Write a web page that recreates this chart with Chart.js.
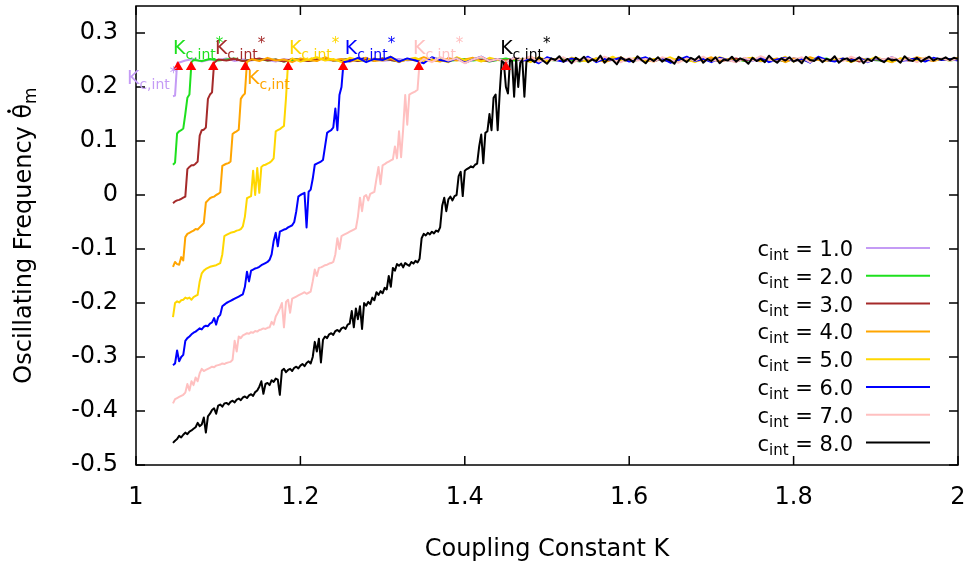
<!DOCTYPE html>
<html>
<head>
<meta charset="utf-8">
<script src="https://cdn.jsdelivr.net/npm/chart.js@4.4.1/dist/chart.umd.min.js"></script>
<style>
  html, body { margin: 0; padding: 0; background: #ffffff; }
  #wrap { width: 974px; height: 569px; position: relative; }
</style>
</head>
<body>
<div id="wrap"><canvas id="chart" width="974" height="569"></canvas></div>
<script>
// ---- axis ticks ----
const xTicks = [1, 1.2, 1.4, 1.6, 1.8, 2];
const yTicks = [-0.5, -0.4, -0.3, -0.2, -0.1, 0, 0.1, 0.2, 0.3];

// ---- series metadata ----
const cintValues = ['1.0', '2.0', '3.0', '4.0', '5.0', '6.0', '7.0', '8.0'];
const seriesColors = ['#c49bf5', '#1ee01e', '#a52a2a', '#ffa500', '#ffd700', '#0000ff', '#ffc0c0', '#000000'];

// sweep of K: the ramp part is sampled every 0.0025 from K = 1.045,
// the locked plateau afterwards on a coarser grid
const kStart = 1.045;
const rampStep = 0.0025;
const plateauStep = 0.01;
const plateauStepFine = 0.005;
const plateauStart = [1.06, 1.07, 1.10, 1.14, 1.19, 1.26, 1.35, 1.48];

// oscillating frequency on the ramp (one value per K step)
const ramp1 = [0.183, 0.184, 0.244];
const ramp2 = [0.056, 0.060, 0.114, 0.118, 0.120, 0.123, 0.150, 0.180, 0.186, 0.246];
const ramp3 = [-0.015, -0.012, -0.010, -0.009, -0.007, -0.005, -0.003, 0.048, 0.052, 0.055,
  0.055, 0.058, 0.062, 0.110, 0.120, 0.121, 0.125, 0.178, 0.186, 0.190, 0.245];
const ramp4 = [-0.133, -0.124, -0.128, -0.129, -0.115, -0.121, -0.078, -0.072, -0.070, -0.068,
  -0.066, -0.063, -0.064, -0.060, -0.056, -0.052, -0.014, -0.010, -0.006, -0.004,
  -0.003, 0.000, 0.002, 0.005, 0.054, 0.056, 0.058, 0.059, 0.062, 0.113,
  0.116, 0.118, 0.121, 0.178, 0.184, 0.188, 0.246];
const ramp5 = [-0.226, -0.200, -0.197, -0.199, -0.195, -0.194, -0.190, -0.192, -0.190, -0.194,
  -0.189, -0.187, -0.185, -0.160, -0.145, -0.140, -0.137, -0.135, -0.133, -0.132,
  -0.131, -0.130, -0.128, -0.126, -0.110, -0.076, -0.074, -0.072, -0.070, -0.069,
  -0.068, -0.066, -0.065, -0.063, -0.058, -0.040, -0.006, -0.004, -0.002, 0.045,
  0.000, 0.050, 0.004, 0.052, 0.055, 0.056, 0.058, 0.060, 0.063, 0.068,
  0.118, 0.120, 0.122, 0.125, 0.128, 0.180, 0.246];
const ramp6 = [-0.315, -0.312, -0.288, -0.308, -0.300, -0.296, -0.270, -0.265, -0.262, -0.258,
  -0.255, -0.253, -0.250, -0.247, -0.249, -0.244, -0.242, -0.243, -0.238, -0.236,
  -0.228, -0.240, -0.226, -0.222, -0.206, -0.203, -0.200, -0.198, -0.196, -0.194,
  -0.192, -0.190, -0.188, -0.186, -0.184, -0.170, -0.142, -0.160, -0.140, -0.138,
  -0.136, -0.135, -0.133, -0.130, -0.128, -0.126, -0.124, -0.120, -0.110, -0.085,
  -0.070, -0.095, -0.068, -0.066, -0.064, -0.063, -0.060, -0.058, -0.056, -0.050,
  -0.030, -0.003, 0.000, 0.002, 0.004, -0.060, 0.006, 0.010, 0.030, 0.056,
  0.058, 0.060, 0.062, 0.065, 0.090, 0.115, 0.118, 0.120, 0.125, 0.160,
  0.120, 0.185, 0.200, 0.246];
const ramp7 = [-0.386, -0.378, -0.376, -0.374, -0.372, -0.370, -0.366, -0.350, -0.362, -0.345,
  -0.352, -0.338, -0.345, -0.330, -0.322, -0.326, -0.324, -0.322, -0.320, -0.318,
  -0.319, -0.316, -0.315, -0.314, -0.312, -0.313, -0.311, -0.310, -0.309, -0.305,
  -0.270, -0.290, -0.262, -0.265, -0.260, -0.258, -0.256, -0.257, -0.254, -0.255,
  -0.252, -0.253, -0.250, -0.249, -0.247, -0.248, -0.246, -0.245, -0.235, -0.240,
  -0.225, -0.218, -0.210, -0.200, -0.245, -0.198, -0.194, -0.218, -0.192, -0.190,
  -0.188, -0.186, -0.184, -0.182, -0.180, -0.183, -0.181, -0.179, -0.160, -0.138,
  -0.150, -0.135, -0.134, -0.132, -0.130, -0.129, -0.127, -0.126, -0.124, -0.110,
  -0.080, -0.100, -0.076, -0.074, -0.072, -0.070, -0.068, -0.066, -0.064, -0.062,
  -0.040, -0.005, -0.030, -0.003, 0.000, -0.010, 0.002, 0.004, 0.006, 0.030,
  0.052, 0.020, 0.055, 0.057, 0.060, 0.062, 0.064, 0.066, 0.090, 0.068,
  0.118, 0.070, 0.122, 0.185, 0.130, 0.186, 0.188, 0.190, 0.192, 0.195,
  0.246];
const ramp8 = [-0.459, -0.455, -0.452, -0.446, -0.449, -0.444, -0.440, -0.443, -0.438, -0.436,
  -0.433, -0.430, -0.422, -0.428, -0.425, -0.412, -0.440, -0.410, -0.405, -0.398,
  -0.395, -0.405, -0.390, -0.388, -0.392, -0.386, -0.385, -0.388, -0.383, -0.381,
  -0.384, -0.379, -0.377, -0.380, -0.375, -0.373, -0.376, -0.371, -0.369, -0.372,
  -0.365, -0.362, -0.355, -0.345, -0.368, -0.350, -0.348, -0.352, -0.343, -0.346,
  -0.340, -0.342, -0.370, -0.325, -0.322, -0.328, -0.324, -0.322, -0.326, -0.320,
  -0.318, -0.321, -0.316, -0.313, -0.317, -0.311, -0.308, -0.312, -0.300, -0.272,
  -0.290, -0.266, -0.310, -0.268, -0.262, -0.265, -0.258, -0.256, -0.259, -0.252,
  -0.250, -0.253, -0.247, -0.245, -0.248, -0.240, -0.238, -0.215, -0.245, -0.210,
  -0.230, -0.206, -0.248, -0.200, -0.205, -0.198, -0.202, -0.190, -0.195, -0.180,
  -0.185, -0.178, -0.182, -0.172, -0.175, -0.150, -0.170, -0.135, -0.140, -0.128,
  -0.131, -0.127, -0.134, -0.126, -0.129, -0.131, -0.124, -0.127, -0.122, -0.125,
  -0.118, -0.080, -0.072, -0.075, -0.070, -0.073, -0.068, -0.071, -0.066, -0.068,
  -0.060, -0.020, -0.005, -0.030, -0.008, -0.003, -0.010, -0.002, 0.000, 0.035,
  0.043, -0.002, 0.045, 0.048, 0.050, 0.053, 0.051, 0.056, 0.058, 0.090,
  0.112, 0.059, 0.115, 0.118, 0.150, 0.120, 0.180, 0.186, 0.120, 0.190,
  0.248, 0.245, 0.200, 0.188, 0.250, 0.248, 0.182, 0.252, 0.200, 0.245,
  0.250, 0.182, 0.247];

// locked plateau up to K = 2
const plateau1 = [0.249, 0.252, 0.247, 0.251, 0.250, 0.253, 0.248, 0.251, 0.249, 0.252,
  0.250, 0.247, 0.252, 0.249, 0.251, 0.248, 0.253, 0.250, 0.249, 0.252,
  0.247, 0.251, 0.250, 0.253, 0.248, 0.250, 0.252, 0.249, 0.251, 0.247,
  0.252, 0.250, 0.248, 0.253, 0.249, 0.251, 0.250, 0.247, 0.252, 0.249,
  0.251, 0.248, 0.250, 0.253, 0.249, 0.252, 0.247, 0.250, 0.251, 0.249,
  0.253, 0.248, 0.250, 0.252, 0.249, 0.251, 0.247, 0.252, 0.250, 0.248,
  0.251, 0.253, 0.249, 0.250, 0.252, 0.248, 0.251, 0.249, 0.253, 0.250,
  0.247, 0.252, 0.249, 0.251, 0.250, 0.248, 0.253, 0.250, 0.249, 0.252,
  0.251, 0.248, 0.250, 0.253, 0.249, 0.251, 0.252, 0.250, 0.248, 0.251,
  0.253, 0.249, 0.252, 0.250, 0.251];
const plateau2 = [0.250, 0.248, 0.252, 0.249, 0.251, 0.253, 0.248, 0.250, 0.252, 0.249,
  0.251, 0.247, 0.250, 0.252, 0.248, 0.251, 0.253, 0.249, 0.250, 0.252,
  0.248, 0.251, 0.249, 0.253, 0.250, 0.247, 0.252, 0.250, 0.249, 0.251,
  0.253, 0.248, 0.250, 0.252, 0.249, 0.251, 0.247, 0.250, 0.253, 0.249,
  0.252, 0.250, 0.248, 0.251, 0.249, 0.253, 0.250, 0.247, 0.252, 0.250,
  0.249, 0.251, 0.253, 0.248, 0.250, 0.252, 0.249, 0.251, 0.247, 0.252,
  0.250, 0.248, 0.253, 0.249, 0.251, 0.250, 0.252, 0.248, 0.250, 0.253,
  0.249, 0.251, 0.247, 0.252, 0.250, 0.249, 0.251, 0.253, 0.248, 0.250,
  0.252, 0.249, 0.251, 0.250, 0.248, 0.253, 0.250, 0.252, 0.249, 0.251,
  0.250, 0.252, 0.249, 0.251];
const plateau3 = [0.251, 0.249, 0.252, 0.248, 0.250, 0.253, 0.249, 0.251, 0.247, 0.252,
  0.250, 0.248, 0.251, 0.253, 0.249, 0.250, 0.252, 0.248, 0.251, 0.249,
  0.253, 0.250, 0.247, 0.251, 0.252, 0.249, 0.250, 0.248, 0.253, 0.251,
  0.249, 0.252, 0.250, 0.248, 0.251, 0.249, 0.253, 0.250, 0.252, 0.247,
  0.250, 0.251, 0.249, 0.253, 0.248, 0.252, 0.250, 0.249, 0.251, 0.253,
  0.248, 0.250, 0.252, 0.249, 0.251, 0.247, 0.253, 0.250, 0.249, 0.252,
  0.251, 0.248, 0.250, 0.253, 0.249, 0.251, 0.252, 0.248, 0.250, 0.249,
  0.253, 0.251, 0.248, 0.252, 0.250, 0.249, 0.251, 0.253, 0.247, 0.250,
  0.252, 0.249, 0.251, 0.250, 0.253, 0.248, 0.251, 0.249, 0.252, 0.250,
  0.251];
const plateau4 = [0.252, 0.248, 0.254, 0.249, 0.251, 0.246, 0.253, 0.250, 0.248, 0.255,
  0.249, 0.252, 0.247, 0.251, 0.254, 0.248, 0.250, 0.253, 0.246, 0.252,
  0.249, 0.255, 0.250, 0.247, 0.253, 0.249, 0.251, 0.254, 0.248, 0.250,
  0.252, 0.246, 0.253, 0.249, 0.255, 0.250, 0.248, 0.252, 0.247, 0.254,
  0.250, 0.249, 0.253, 0.246, 0.251, 0.255, 0.248, 0.252, 0.250, 0.247,
  0.254, 0.249, 0.251, 0.253, 0.248, 0.250, 0.255, 0.247, 0.252, 0.249,
  0.251, 0.254, 0.248, 0.250, 0.253, 0.246, 0.252, 0.249, 0.255, 0.250,
  0.248, 0.253, 0.251, 0.247, 0.254, 0.249, 0.252, 0.250, 0.246, 0.253,
  0.249, 0.255, 0.251, 0.248, 0.252, 0.250, 0.254];
const plateau5 = [0.253, 0.247, 0.251, 0.255, 0.249, 0.252, 0.246, 0.254, 0.250, 0.248,
  0.253, 0.249, 0.256, 0.247, 0.251, 0.254, 0.248, 0.252, 0.250, 0.246,
  0.255, 0.249, 0.252, 0.247, 0.254, 0.250, 0.248, 0.253, 0.251, 0.246,
  0.255, 0.249, 0.252, 0.248, 0.254, 0.250, 0.247, 0.253, 0.249, 0.256,
  0.248, 0.251, 0.254, 0.247, 0.252, 0.250, 0.255, 0.248, 0.251, 0.246,
  0.253, 0.249, 0.255, 0.250, 0.247, 0.252, 0.254, 0.248, 0.251, 0.249,
  0.256, 0.247, 0.252, 0.250, 0.254, 0.248, 0.251, 0.253, 0.246, 0.252,
  0.249, 0.255, 0.250, 0.247, 0.253, 0.251, 0.248, 0.254, 0.250, 0.252,
  0.249, 0.253];
const plateau6 = [0.248, 0.254, 0.246, 0.252, 0.250, 0.256, 0.247, 0.253, 0.249, 0.244,
  0.255, 0.250, 0.247, 0.253, 0.245, 0.251, 0.256, 0.248, 0.252, 0.246,
  0.254, 0.249, 0.251, 0.244, 0.255, 0.250, 0.247, 0.253, 0.249, 0.256,
  0.246, 0.252, 0.250, 0.254, 0.247, 0.251, 0.255, 0.248, 0.253, 0.245,
  0.250, 0.256, 0.248, 0.252, 0.246, 0.254, 0.250, 0.247, 0.253, 0.249,
  0.255, 0.246, 0.251, 0.254, 0.248, 0.252, 0.245, 0.256, 0.250, 0.247,
  0.253, 0.249, 0.254, 0.246, 0.252, 0.250, 0.255, 0.248, 0.251, 0.253,
  0.247, 0.254, 0.250, 0.252, 0.249];
const plateau7 = [0.252, 0.246, 0.255, 0.249, 0.253, 0.244, 0.251, 0.256, 0.248, 0.252,
  0.246, 0.254, 0.250, 0.257, 0.247, 0.252, 0.249, 0.255, 0.245, 0.251,
  0.253, 0.248, 0.256, 0.250, 0.246, 0.254, 0.249, 0.252, 0.247, 0.255,
  0.251, 0.245, 0.253, 0.249, 0.256, 0.248, 0.252, 0.250, 0.246, 0.254,
  0.249, 0.257, 0.251, 0.247, 0.253, 0.250, 0.255, 0.246, 0.252, 0.249,
  0.254, 0.248, 0.256, 0.250, 0.247, 0.253, 0.251, 0.255, 0.249, 0.252,
  0.246, 0.254, 0.250, 0.253, 0.249, 0.252];
const plateau8 = [0.251, 0.246, 0.255, 0.249, 0.243, 0.253, 0.250, 0.257, 0.247, 0.252,
  0.244, 0.254, 0.249, 0.256, 0.246, 0.251, 0.248, 0.258, 0.245, 0.253,
  0.250, 0.242, 0.255, 0.249, 0.252, 0.246, 0.257, 0.250, 0.244, 0.253,
  0.248, 0.255, 0.247, 0.252, 0.249, 0.243, 0.256, 0.251, 0.246, 0.254,
  0.250, 0.257, 0.245, 0.252, 0.248, 0.255, 0.244, 0.251, 0.249, 0.256,
  0.247, 0.253, 0.250, 0.243, 0.254, 0.248, 0.252, 0.246, 0.258, 0.250,
  0.245, 0.253, 0.249, 0.255, 0.247, 0.251, 0.244, 0.256, 0.250, 0.248,
  0.254, 0.246, 0.252, 0.249, 0.257, 0.245, 0.251, 0.253, 0.247, 0.250,
  0.255, 0.244, 0.252, 0.248, 0.256, 0.250, 0.246, 0.253, 0.249, 0.251,
  0.245, 0.257, 0.250, 0.248, 0.254, 0.247, 0.252, 0.256, 0.249, 0.253,
  0.251, 0.255, 0.250, 0.254, 0.252];

// critical coupling K_c,int* for each c_int (red markers)
const kcValues = [1.051, 1.067, 1.094, 1.133, 1.185, 1.252, 1.344, 1.450];
const kcMarkerLevel = 0.237;
// where each K_c,int* caption sits (K, frequency of its baseline)
const kcLabelK = [0.989, 1.045, 1.096, 1.135, 1.186, 1.254, 1.337, 1.443];
const kcLabelV = [0.206, 0.261, 0.261, 0.206, 0.261, 0.261, 0.261, 0.261];
const kcLabelStar = [true, true, true, false, true, true, true, true];

const ramps = [ramp1, ramp2, ramp3, ramp4, ramp5, ramp6, ramp7, ramp8];
const plateaus = [plateau1, plateau2, plateau3, plateau4, plateau5, plateau6, plateau7, plateau8];
const plateauSteps = [plateauStep, plateauStep, plateauStep, plateauStep, plateauStep, plateauStep, plateauStep, plateauStepFine];

function buildSeries(i) {
  const pts = ramps[i].map((v, j) => ({ x: kStart + j * rampStep, y: v }));
  plateaus[i].forEach((v, j) => pts.push({ x: plateauStart[i] + j * plateauSteps[i], y: v }));
  return pts;
}

const FONT = '"DejaVu Sans", Verdana, sans-serif';

const datasets = cintValues.map((c, i) => ({
  label: 'c_int = ' + c,
  data: buildSeries(i),
  borderColor: seriesColors[i],
  backgroundColor: seriesColors[i],
  borderWidth: 2,
  pointRadius: 0,
  tension: 0,
  borderJoinStyle: 'round',
  order: 10 - i
}));

datasets.push({
  type: 'scatter',
  label: 'Kc',
  data: kcValues.map(k => ({ x: k, y: kcMarkerLevel })),
  pointStyle: 'triangle',
  pointRadius: 6,
  pointHoverRadius: 6,
  backgroundColor: '#ff0000',
  borderColor: '#ff0000',
  borderWidth: 0,
  order: 0
});

// draw a run of text pieces (with sub/superscripts) left to right
function drawRuns(ctx, x, y, runs, color) {
  let cx = x;
  for (const r of runs) {
    ctx.font = r.size + 'px ' + FONT;
    ctx.fillStyle = r.color || color;
    ctx.fillText(r.text, cx, y + (r.dy || 0));
    cx += ctx.measureText(r.text).width;
  }
  return cx - x;
}
function runsWidth(ctx, runs) {
  let w = 0;
  for (const r of runs) {
    ctx.font = r.size + 'px ' + FONT;
    w += ctx.measureText(r.text).width;
  }
  return w;
}

const decorations = {
  id: 'decorations',
  afterDraw(chart) {
    const { ctx, chartArea: a, scales } = chart;
    const xs = scales.x, ys = scales.y;
    ctx.save();
    ctx.textAlign = 'left';
    ctx.textBaseline = 'alphabetic';

    // border and mirrored inward ticks
    ctx.strokeStyle = '#000';
    ctx.lineWidth = 1.5;
    ctx.strokeRect(a.left, a.top, a.right - a.left, a.bottom - a.top);
    const tl = 9;
    ctx.beginPath();
    for (const v of xTicks) {
      const px = xs.getPixelForValue(v);
      ctx.moveTo(px, a.bottom); ctx.lineTo(px, a.bottom - tl);
      ctx.moveTo(px, a.top); ctx.lineTo(px, a.top + tl);
    }
    for (const v of yTicks) {
      const py = ys.getPixelForValue(v);
      ctx.moveTo(a.left, py); ctx.lineTo(a.left + tl, py);
      ctx.moveTo(a.right, py); ctx.lineTo(a.right - tl, py);
    }
    ctx.stroke();

    // K_c,int* captions
    for (let i = 0; i < kcValues.length; i++) {
      const px = xs.getPixelForValue(kcLabelK[i]);
      const py = ys.getPixelForValue(kcLabelV[i]);
      const runs = [
        { text: 'K', size: 19 },
        { text: 'c,int', size: 14, dy: 5 }
      ];
      if (kcLabelStar[i]) runs.push({ text: '*', size: 15, dy: -6 });
      drawRuns(ctx, px, py, runs, seriesColors[i]);
    }

    // key
    const keyRight = a.right - 105;
    const lineX0 = a.right - 92, lineX1 = a.right - 28;
    const row0 = a.top + 242, rowGap = 27.8;
    cintValues.forEach((c, i) => {
      const yy = row0 + i * rowGap;
      const runs = [
        { text: 'c', size: 21 },
        { text: 'int', size: 15, dy: 4 },
        { text: ' = ' + c, size: 21 }
      ];
      const w = runsWidth(ctx, runs);
      drawRuns(ctx, keyRight - w, yy + 8, runs, '#000');
      ctx.strokeStyle = seriesColors[i];
      ctx.lineWidth = 2;
      ctx.beginPath();
      ctx.moveTo(lineX0, yy); ctx.lineTo(lineX1, yy);
      ctx.stroke();
    });

    // axis titles
    ctx.fillStyle = '#000';
    ctx.font = '24px ' + FONT;
    ctx.textAlign = 'center';
    ctx.fillText('Coupling Constant K', (a.left + a.right) / 2, 556);

    ctx.textAlign = 'left';
    ctx.save();
    ctx.translate(31, (a.top + a.bottom) / 2);
    ctx.rotate(-Math.PI / 2);
    const titleRuns = [
      { text: 'Oscillating Frequency θ', size: 24 },
      { text: 'm', size: 17, dy: 5 }
    ];
    const tw = runsWidth(ctx, titleRuns);
    drawRuns(ctx, -tw / 2, 0, titleRuns, '#000');
    ctx.font = '24px ' + FONT;
    const pre = ctx.measureText('Oscillating Frequency ').width;
    const th = ctx.measureText('θ').width;
    ctx.beginPath();
    ctx.arc(-tw / 2 + pre + th / 2, -22, 1.8, 0, Math.PI * 2);
    ctx.fill();
    ctx.restore();

    ctx.restore();
  }
};

new Chart(document.getElementById('chart'), {
  type: 'line',
  data: { datasets },
  options: {
    responsive: false,
    devicePixelRatio: 1,
    animation: false,
    events: [],
    layout: { padding: { left: 0, right: 16, top: 1, bottom: 0 } },
    plugins: { legend: { display: false }, tooltip: { enabled: false }, title: { display: false } },
    scales: {
      x: {
        type: 'linear',
        min: 1, max: 2,
        border: { display: false },
        grid: { display: false, drawTicks: false },
        ticks: {
          color: '#000',
          font: { family: FONT, size: 24 },
          padding: 18,
          maxRotation: 0,
          autoSkip: false,
          callback: v => String(Number(v.toFixed(1)))
        },
        afterBuildTicks: s => { s.ticks = xTicks.map(v => ({ value: v })); },
        afterFit: s => { s.height = 104; s.paddingLeft = 0; s.paddingRight = 0; }
      },
      y: {
        type: 'linear',
        min: -0.5, max: 0.35,
        border: { display: false },
        grid: { display: false, drawTicks: false },
        ticks: {
          color: '#000',
          font: { family: FONT, size: 24 },
          padding: 18,
          autoSkip: false,
          callback: v => String(Number(v.toFixed(1)))
        },
        afterBuildTicks: s => { s.ticks = yTicks.map(v => ({ value: v })); },
        afterFit: s => { s.width = 136; s.paddingTop = 0; s.paddingBottom = 0; }
      }
    }
  },
  plugins: [decorations]
});
</script>
</body>
</html>
